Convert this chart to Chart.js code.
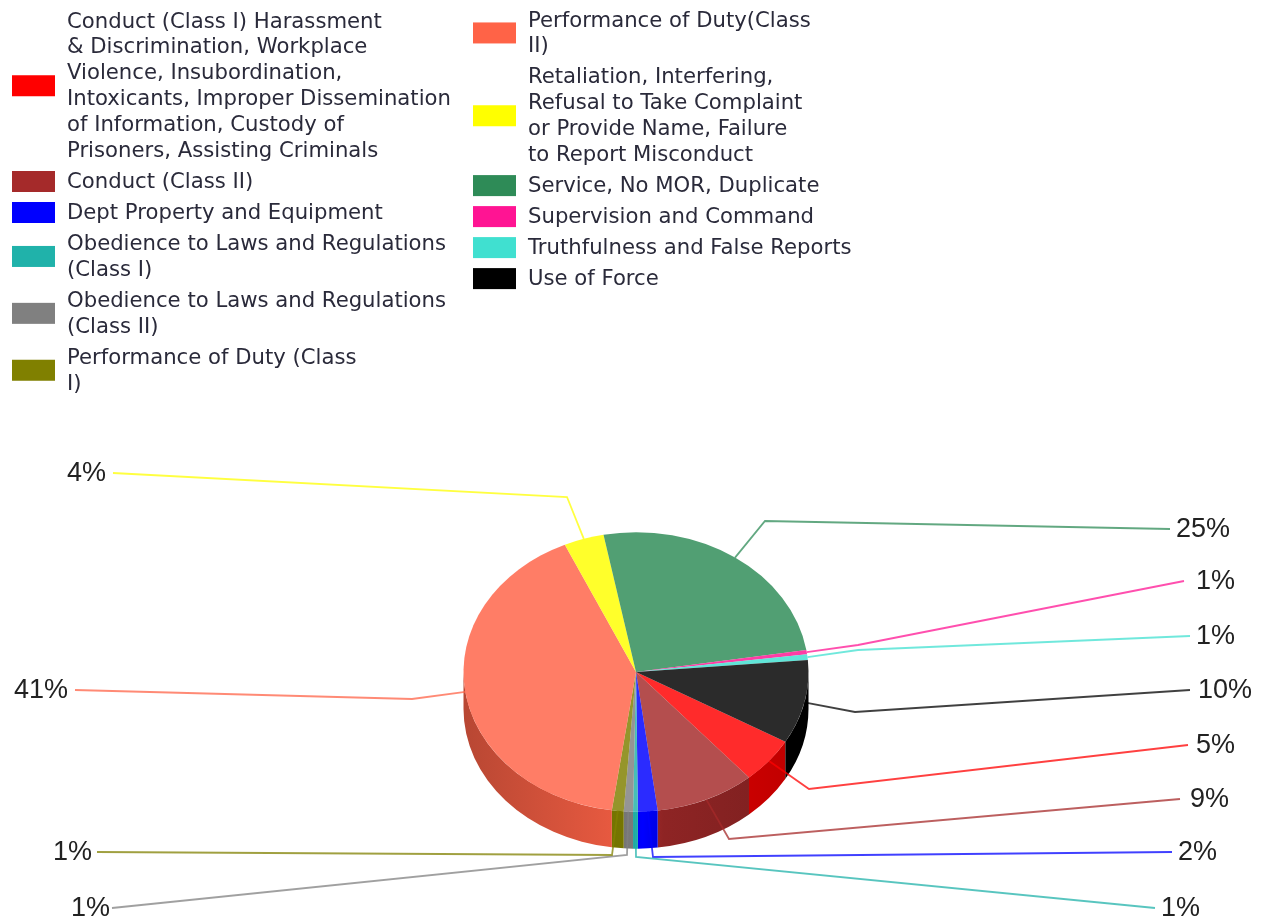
<!DOCTYPE html>
<html>
<head>
<meta charset="utf-8">
<title>Complaints by allegation</title>
<script src="https://cdn.jsdelivr.net/npm/chart.js@4/dist/chart.umd.min.js"></script>
<style>
  html, body { margin: 0; padding: 0; background: #fff; }
  canvas { display: block; filter: blur(0.45px); }
</style>
</head>
<body>
<canvas id="chart-1" width="1263" height="919"></canvas>
<script>
const categories = [
  'Conduct (Class I) Harassment & Discrimination, Workplace Violence, Insubordination, Intoxicants, Improper Dissemination of Information, Custody of Prisoners, Assisting Criminals',
  'Conduct (Class II)',
  'Dept Property and Equipment',
  'Obedience to Laws and Regulations (Class I)',
  'Obedience to Laws and Regulations (Class II)',
  'Performance of Duty (Class I)',
  'Performance of Duty(Class II)',
  'Retaliation, Interfering, Refusal to Take Complaint or Provide Name, Failure to Report Misconduct',
  'Service, No MOR, Duplicate',
  'Supervision and Command',
  'Truthfulness and False Reports',
  'Use of Force'
];
const shares = [5.3, 9.36, 1.83, 0.45, 0.86, 1.1, 41, 3.75, 25.5, 0.5, 0.65, 9.7];
const shareLabels = ['5%', '9%', '2%', '1%', '1%', '1%', '41%', '4%', '25%', '1%', '1%', '10%'];
const sliceColors = ['#ff0000', '#a52a2a', '#0000ff', '#20b2aa', '#808080', '#808000',
  '#ff6347', '#ffff00', '#2e8b57', '#ff1493', '#40e0d0', '#000000'];

// how the legend text wraps, one list per column
const legendColumns = [
  [
    [0, ['Conduct (Class I) Harassment', '& Discrimination, Workplace', 'Violence, Insubordination,', 'Intoxicants, Improper Dissemination', 'of Information, Custody of', 'Prisoners, Assisting Criminals']],
    [1, ['Conduct (Class II)']],
    [2, ['Dept Property and Equipment']],
    [3, ['Obedience to Laws and Regulations', '(Class I)']],
    [4, ['Obedience to Laws and Regulations', '(Class II)']],
    [5, ['Performance of Duty (Class', 'I)']]
  ],
  [
    [6, ['Performance of Duty(Class', 'II)']],
    [7, ['Retaliation, Interfering,', 'Refusal to Take Complaint', 'or Provide Name, Failure', 'to Report Misconduct']],
    [8, ['Service, No MOR, Duplicate']],
    [9, ['Supervision and Command']],
    [10, ['Truthfulness and False Reports']],
    [11, ['Use of Force']]
  ]
];

// where each callout bends, where it stops and where its label sits
const calloutBends = [[809, 789], [729, 839], [653, 857], [636, 857], [627, 855], [612, 855],
  [412, 699], [567, 497], [765, 521], [858, 645], [858, 650], [855, 712]];
const calloutEnds = [[1188, 745], [1180, 799], [1172, 852], [1155, 908], [112, 908], [97, 852],
  [75, 690], [113, 473], [1170, 529], [1184, 581], [1190, 636], [1190, 690]];
const labelLeft = [1196, 1190, 1178, 1161, 71, 53, 14, 67, 1176, 1196, 1196, 1198];

const SQUASH = 0.81;   // top face is a circle flattened to an ellipse
const DEPTH = 37;

function shade(hex, f) {
  const n = parseInt(hex.slice(1), 16);
  return `rgb(${Math.round((n >> 16) * f)}, ${Math.round(((n >> 8) & 255) * f)}, ${Math.round((n & 255) * f)})`;
}

function withAlpha(hex, a) {
  const n = parseInt(hex.slice(1), 16);
  return `rgba(${n >> 16}, ${(n >> 8) & 255}, ${n & 255}, ${a})`;
}

const pie3d = {
  id: 'pie3d',
  beforeDatasetsDraw(chart) {
    const ctx = chart.ctx;
    const arcs = chart.getDatasetMeta(0).data;
    const cx = arcs[0].x, cy = arcs[0].y, rx = arcs[0].outerRadius, ry = rx * SQUASH;

    // side wall, only the part facing the viewer
    arcs.forEach((arc, i) => {
      [0, 2 * Math.PI].forEach(turn => {
        const a = Math.max(arc.startAngle, turn);
        const b = Math.min(arc.endAngle, turn + Math.PI);
        if (b <= a) return;
        const g = ctx.createLinearGradient(cx - rx, 0, cx + rx, 0);
        g.addColorStop(0, shade(sliceColors[i], 0.72));
        g.addColorStop(0.47, shade(sliceColors[i], 0.92));
        g.addColorStop(0.52, shade(sliceColors[i], 1));
        g.addColorStop(0.58, shade(sliceColors[i], 0.86));
        g.addColorStop(1, shade(sliceColors[i], 0.74));
        ctx.beginPath();
        ctx.ellipse(cx, cy, rx, ry, 0, a, b);
        ctx.ellipse(cx, cy + DEPTH, rx, ry, 0, b, a, true);
        ctx.closePath();
        ctx.fillStyle = g;
        ctx.fill();
      });
    });

    // callouts from the middle of each slice edge
    arcs.forEach((arc, i) => {
      const mid = (arc.startAngle + arc.endAngle) / 2;
      ctx.beginPath();
      ctx.moveTo(cx + rx * Math.cos(mid), cy + ry * Math.sin(mid));
      ctx.lineTo(calloutBends[i][0], calloutBends[i][1]);
      ctx.lineTo(calloutEnds[i][0], calloutEnds[i][1]);
      ctx.strokeStyle = withAlpha(sliceColors[i], 0.75);
      ctx.lineWidth = 1.8;
      ctx.stroke();
    });

    ctx.save();
    ctx.translate(cx, cy);
    ctx.scale(1, SQUASH);
    ctx.translate(-cx, -cy);
  },
  afterDatasetsDraw(chart) {
    const ctx = chart.ctx;
    ctx.restore();

    // percent labels
    ctx.save();
    ctx.font = '27px "Liberation Sans"';
    ctx.fillStyle = '#222';
    ctx.textBaseline = 'middle';
    ctx.textAlign = 'left';
    shareLabels.forEach((txt, i) => {
      ctx.fillText(txt, labelLeft[i], calloutEnds[i][1] + 1);
    });
    ctx.restore();

    // legend
    const colX = [[12, 67], [473, 528]];
    const startY = [21, 20];
    ctx.save();
    ctx.font = '21.2px "DejaVu Sans"';
    ctx.textBaseline = 'middle';
    ctx.textAlign = 'left';
    legendColumns.forEach((col, c) => {
      let y = startY[c];
      col.forEach(([idx, lines]) => {
        const h = (lines.length - 1) * 25.9;
        ctx.fillStyle = sliceColors[idx];
        ctx.fillRect(colX[c][0], y + h / 2 - 10.5, 43, 21);
        ctx.fillStyle = '#2a2a3a';
        lines.forEach((ln, k) => ctx.fillText(ln, colX[c][1], y + k * 25.9 + 1));
        y += h + 31;
      });
    });
    ctx.restore();
  }
};

const chart1 = new Chart(document.getElementById('chart-1'), {
  type: 'pie',
  data: {
    labels: categories,
    datasets: [{
      data: shares,
      backgroundColor: sliceColors.map(c => withAlpha(c, 0.83)),
      borderWidth: 0
    }]
  },
  options: {
    responsive: false,
    animation: false,
    rotation: 120,
    layout: { padding: { left: 463.5, right: 454.5, top: 499.5, bottom: 74.5 } },
    plugins: { legend: { display: false }, tooltip: { enabled: false } }
  },
  plugins: [pie3d]
});
</script>
</body>
</html>
